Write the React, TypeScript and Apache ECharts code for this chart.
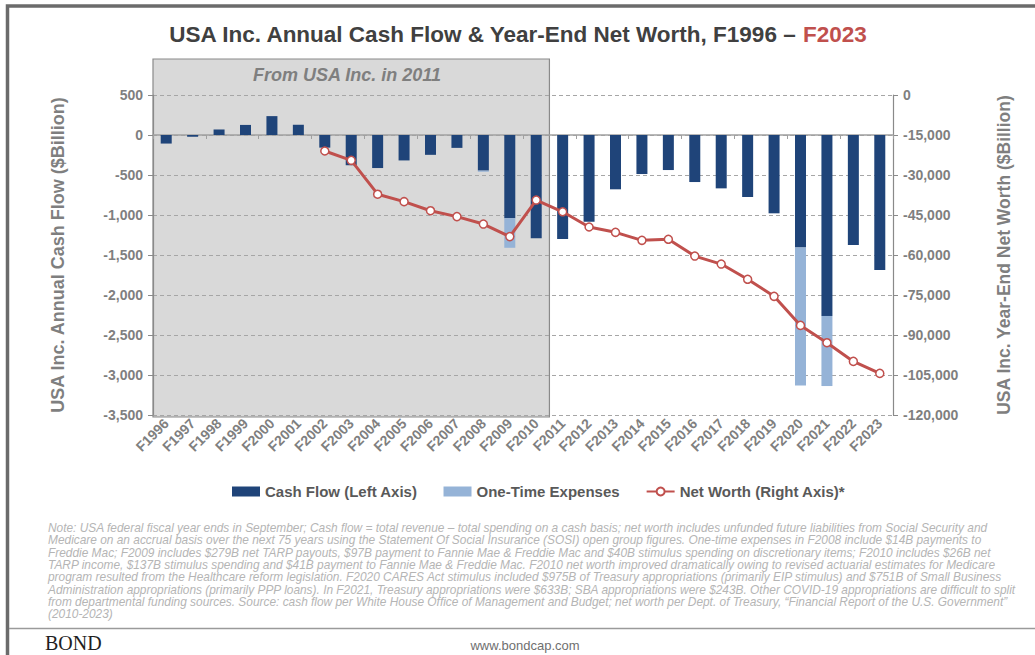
import React, { useEffect, useRef } from "react";
import * as echarts from "echarts";

const categories = [
  "F1996", "F1997", "F1998", "F1999", "F2000", "F2001", "F2002", "F2003", "F2004", "F2005",
  "F2006", "F2007", "F2008", "F2009", "F2010", "F2011", "F2012", "F2013", "F2014", "F2015",
  "F2016", "F2017", "F2018", "F2019", "F2020", "F2021", "F2022", "F2023",
];

const cashFlow = [
  -107, -22, 69, 126, 236, 128, -158, -378, -413, -318,
  -248, -161, -445, -1040, -1290, -1300, -1083, -679, -488, -438,
  -588, -667, -775, -979, -1406, -2262, -1375, -1688,
];

const oneTimeExpenses = [
  null, null, null, null, null, null, null, null, null, null,
  null, null, -14, -370, null, null, null, null, null, null,
  null, null, null, null, -1726, -876, null, null,
];

const netWorth = [
  null, null, null, null, null, null, -21000, -24500, -37200, -40000,
  -43400, -45600, -48400, -53100, -39400, -43800, -49500, -51500, -54500, -54100,
  -60400, -63400, -69100, -75500, -86400, -92900, -99900, -104400,
];

const leftTicks = { min: -3500, max: 500, interval: 500 };
const rightTicks = { min: -120000, max: 0, interval: 15000 };

const noteLines = [
  "Note: USA federal fiscal year ends in September; Cash flow = total revenue – total spending on a cash basis; net worth includes unfunded future liabilities from Social Security and",
  "Medicare on an accrual basis over the next 75 years using the Statement Of Social Insurance (SOSI) open group figures. One-time expenses in F2008 include $14B payments to",
  "Freddie Mac; F2009 includes $279B net TARP payouts, $97B payment to Fannie Mae & Freddie Mac and $40B stimulus spending on discretionary items; F2010 includes $26B net",
  "TARP income, $137B stimulus spending and $41B payment to Fannie Mae & Freddie Mac. F2010 net worth improved dramatically owing to revised actuarial estimates for Medicare",
  "program resulted from the Healthcare reform legislation. F2020 CARES Act stimulus included $975B of Treasury appropriations (primarily EIP stimulus) and $751B of Small Business",
  "Administration appropriations (primarily PPP loans). In F2021, Treasury appropriations were $633B; SBA appropriations were $243B. Other COVID-19 appropriations are difficult to split",
  "from departmental funding sources. Source: cash flow per White House Office of Management and Budget; net worth per Dept. of Treasury, “Financial Report of the U.S. Government”",
  "(2010-2023)",
];

const FONT = "'Liberation Sans', Arial, sans-serif";
const W = 1035;
const H = 655;
const GRID = { left: 153, right: 142, top: 95, bottom: 240 };

export default function App() {
  const ref = useRef<HTMLDivElement>(null);

  useEffect(() => {
    if (!ref.current) return;
    const chart = echarts.init(ref.current, undefined, { renderer: "svg" });
    const plotW = W - GRID.left - GRID.right;
    const band = plotW / categories.length;
    const boxRight = GRID.left + band * 15;
    const fmt = (v: number) => v.toLocaleString("en-US");

    const graphic: any[] = [
      {
        type: "rect",
        z: -10,
        shape: { x: 7.5, y: 6, width: W, height: H },
        style: { fill: "none", stroke: "#6b6b6b", lineWidth: 3.5 },
      },
      {
        type: "rect",
        z: -10,
        shape: { x: GRID.left, y: 59, width: boxRight - GRID.left, height: 358 },
        style: { fill: "#d9d9d9", stroke: "#8a8a8a", lineWidth: 1.2 },
      },
      {
        type: "text",
        z: 5,
        x: 347,
        y: 75,
        style: {
          text: "From USA Inc. in 2011",
          fill: "#7f7f7f",
          font: `italic bold 18px ${FONT}`,
          textAlign: "center",
          textVerticalAlign: "middle",
        },
      },
      ...noteLines.map((t, i) => ({
        type: "text",
        x: 48,
        y: 528 + i * 12.3,
        style: {
          text: t,
          fill: "#b5b5b5",
          font: `italic 11.9px ${FONT}`,
          textAlign: "left",
          textVerticalAlign: "middle",
        },
      })),
      {
        type: "line",
        shape: { x1: 9, y1: 628.5, x2: W, y2: 628.5 },
        style: { stroke: "#9a9a9a", lineWidth: 1.5 },
      },
      {
        type: "text",
        x: 45,
        y: 643,
        style: {
          text: "BOND",
          fill: "#1f1f1f",
          font: `20px 'Liberation Serif', 'DejaVu Serif', serif`,
          textAlign: "left",
          textVerticalAlign: "middle",
        },
      },
      {
        type: "text",
        x: 525,
        y: 645,
        style: {
          text: "www.bondcap.com",
          fill: "#6f6f6f",
          font: `13px ${FONT}`,
          textAlign: "center",
          textVerticalAlign: "middle",
        },
      },
    ];

    chart.setOption({
      animation: false,
      backgroundColor: "#ffffff",
      textStyle: { fontFamily: FONT },
      title: {
        left: "center",
        top: 18,
        text: "{a|USA Inc. Annual Cash Flow & Year-End Net Worth, F1996 – }{b|F2023}",
        textStyle: {
          rich: {
            a: { fontSize: 22.5, fontWeight: "bold", color: "#404040", fontFamily: FONT },
            b: { fontSize: 22.5, fontWeight: "bold", color: "#c0504d", fontFamily: FONT },
          },
        },
      },
      legend: {
        left: 227,
        top: 479,
        itemWidth: 28,
        itemHeight: 10,
        itemGap: 26,
        textStyle: { fontSize: 15, fontWeight: "bold", color: "#595959", fontFamily: FONT },
        data: [
          { name: "Cash Flow (Left Axis)", icon: "rect" },
          { name: "One-Time Expenses", icon: "rect" },
          { name: "Net Worth (Right Axis)*" },
        ],
      },
      grid: { ...GRID, containLabel: false },
      xAxis: [
        {
          type: "category",
          data: categories,
          position: "bottom",
          axisLine: { show: false, onZero: false },
          axisTick: { show: false },
          splitLine: { show: false },
          axisLabel: {
            interval: 0,
            rotate: 45,
            margin: 6,
            fontSize: 14,
            fontWeight: "bold",
            color: "#7f7f7f",
            fontFamily: FONT,
          },
        },
        {
          type: "category",
          data: categories,
          position: "bottom",
          axisLine: { show: true, onZero: true, onZeroAxisIndex: 0, lineStyle: { color: "#a0a0a0", width: 1.5 } },
          axisTick: { show: true, length: 4, lineStyle: { color: "#a0a0a0" } },
          axisLabel: { show: false },
          splitLine: { show: false },
        },
      ],
      yAxis: [
        {
          type: "value",
          ...leftTicks,
          position: "left",
          name: "USA Inc. Annual Cash Flow ($Billion)",
          nameLocation: "middle",
          nameGap: 86,
          nameTextStyle: { fontSize: 18, fontWeight: "bold", color: "#7f7f7f", fontFamily: FONT },
          axisLine: { show: true, lineStyle: { color: "#8a8a8a", width: 1.2 } },
          axisTick: { show: true, length: 5, lineStyle: { color: "#8a8a8a" } },
          axisLabel: {
            formatter: fmt,
            fontSize: 14,
            fontWeight: "bold",
            color: "#7f7f7f",
            margin: 10,
            fontFamily: FONT,
          },
          splitLine: { show: true, lineStyle: { color: "#a6a6a6", type: [4, 3], width: 1 } },
        },
        {
          type: "value",
          ...rightTicks,
          position: "right",
          name: "USA Inc. Year-End Net Worth ($Billion)",
          nameLocation: "middle",
          nameGap: 102,
          nameRotate: 90,
          nameTextStyle: { fontSize: 17.5, fontWeight: "bold", color: "#7f7f7f", fontFamily: FONT },
          axisLine: { show: true, lineStyle: { color: "#8a8a8a", width: 1.2 } },
          axisTick: { show: true, length: 5, lineStyle: { color: "#8a8a8a" } },
          axisLabel: {
            formatter: fmt,
            fontSize: 14,
            fontWeight: "bold",
            color: "#7f7f7f",
            margin: 10,
            fontFamily: FONT,
          },
          splitLine: { show: false },
        },
      ],
      series: [
        {
          name: "Cash Flow (Left Axis)",
          type: "bar",
          stack: "cf",
          xAxisIndex: 0,
          yAxisIndex: 0,
          barWidth: 11,
          data: cashFlow,
          itemStyle: { color: "#1f4479" },
        },
        {
          name: "One-Time Expenses",
          type: "bar",
          stack: "cf",
          xAxisIndex: 0,
          yAxisIndex: 0,
          barWidth: 11,
          data: oneTimeExpenses,
          itemStyle: { color: "#95b3d7" },
        },
        {
          name: "Net Worth (Right Axis)*",
          type: "line",
          xAxisIndex: 0,
          yAxisIndex: 1,
          data: netWorth,
          symbol: "circle",
          symbolSize: 8,
          showAllSymbol: true,
          connectNulls: false,
          z: 5,
          lineStyle: { color: "#c0504d", width: 3 },
          itemStyle: { color: "#ffffff", borderColor: "#c0504d", borderWidth: 1.5 },
        },
      ],
      graphic,
    });

    return () => chart.dispose();
  }, []);

  return (
    <div
      ref={ref}
      style={{ position: "absolute", left: 0, top: 0, width: W, height: H }}
    />
  );
}
